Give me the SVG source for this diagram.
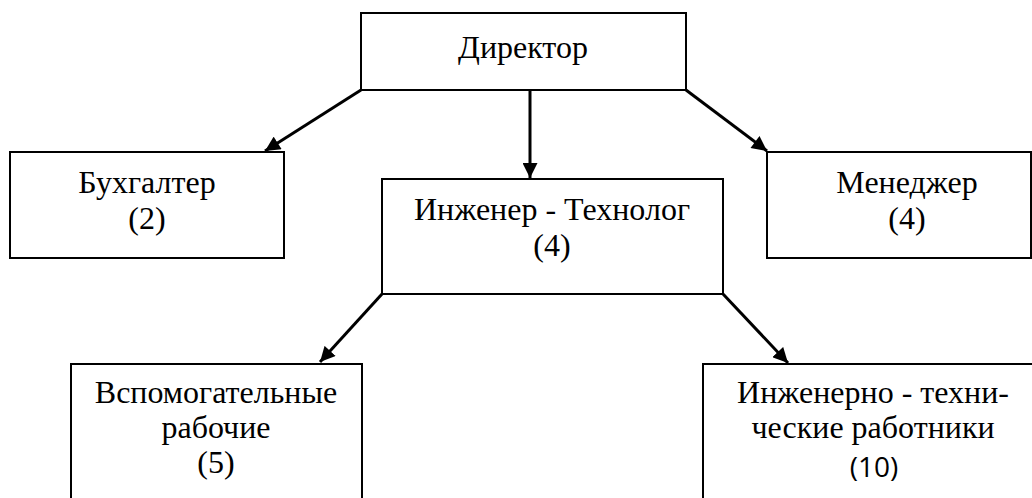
<svg xmlns="http://www.w3.org/2000/svg" width="1032" height="498" viewBox="0 0 1032 498">
<style>
.box{fill:#fff;stroke:#000;stroke-width:2}
.t{font-family:"Liberation Serif","Times New Roman",serif;font-size:32px;fill:#000;text-anchor:middle}
.s{font-family:"Open Sans","Liberation Sans",sans-serif;font-size:28px;fill:#000;text-anchor:middle}
.c{stroke:#000;stroke-width:3;fill:none;marker-end:url(#ah)}
</style>
<defs>
<marker id="ah" viewBox="0 0 10 10" refX="10" refY="5" markerWidth="5.2" markerHeight="5" markerUnits="strokeWidth" orient="auto">
<path d="M0,0 L10,5 L0,10 z" fill="#000"/>
</marker>
</defs>
<g id="connectors">
<line class="c" x1="361" y1="90" x2="265" y2="151"/>
<line class="c" x1="530" y1="90" x2="530" y2="178"/>
<line class="c" x1="686" y1="90" x2="767" y2="151"/>
<line class="c" x1="382" y1="294" x2="320" y2="362"/>
<line class="c" x1="723" y1="294" x2="788" y2="363"/>
</g>
<g id="director">
<rect class="box" x="361" y="13" width="325" height="77"/>
<text class="t" x="523" y="58">Директор</text>
</g>
<g id="accountant">
<rect class="box" x="10" y="152" width="274" height="106"/>
<text class="t" x="147" y="193">Бухгалтер</text>
<text class="t" x="147" y="229">(2)</text>
</g>
<g id="manager">
<rect class="box" x="767" y="152" width="264" height="106"/>
<text class="t" x="907" y="193">Менеджер</text>
<text class="t" x="907" y="229">(4)</text>
</g>
<g id="engineer">
<rect class="box" x="382" y="179" width="341" height="115"/>
<text class="t" x="552" y="220">Инженер - Технолог</text>
<text class="t" x="552" y="256">(4)</text>
</g>
<g id="auxiliary">
<rect class="box" x="71" y="364" width="291" height="140"/>
<text class="t" x="216" y="403">Вспомогательные</text>
<text class="t" x="216" y="438">рабочие</text>
<text class="t" x="216" y="473">(5)</text>
</g>
<g id="itr">
<rect class="box" x="703" y="364" width="335" height="140"/>
<text class="t" x="873" y="403">Инженерно - техни-</text>
<text class="t" x="873" y="438">ческие работники</text>
<text class="s" x="874" y="477">(10)</text>
</g>
</svg>
